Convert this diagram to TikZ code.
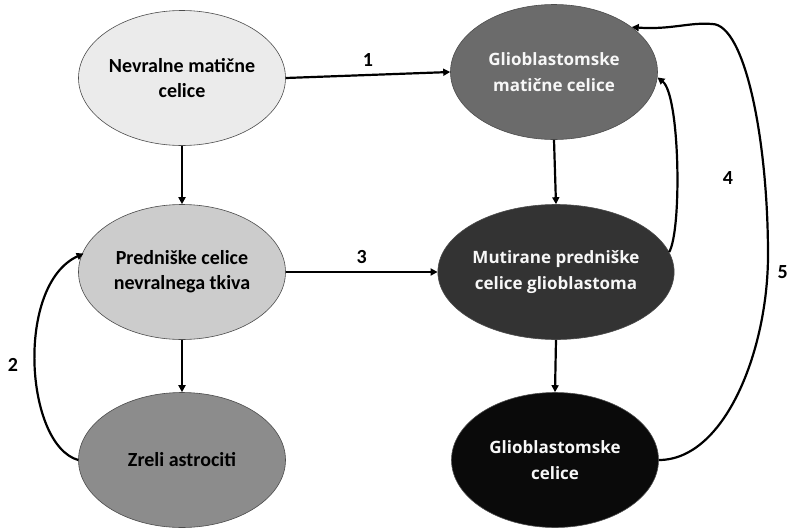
\documentclass[tikz,border=0pt]{standalone}
\usepackage{fontspec}
\setmainfont{Carlito}
\newfontfamily\rfont{Open Sans}
\usetikzlibrary{shapes.geometric,arrows.meta}
\begin{document}
\begin{tikzpicture}[x=1pt,y=-1pt,
  cell/.style={ellipse,draw=black!70,line width=0.6pt,minimum width=207pt,minimum height=135pt,inner sep=0pt,align=center},
  ltext/.style={font=\fontsize{20}{25}\selectfont\bfseries,text=black},
  rtext/.style={font=\rfont\fontsize{17}{26}\selectfont\bfseries,text=black!3},
  conn/.style={line width=2.2pt,-{Triangle[length=7pt,width=7pt]}},
  lbl/.style={font=\fontsize{20}{22}\selectfont\bfseries}]
\useasboundingbox (0,0) rectangle (788,528);
\node[cell,fill=black!8,ltext] (nmc) at (182,78) {Nevralne matične\\celice};
\node[cell,fill=black!20,ltext] (pcn) at (182,272) {Predniške celice\\nevralnega tkiva};
\node[cell,fill=black!45,ltext] (za) at (182,460) {Zreli astrociti};
\node[cell,fill=black!58,rtext] (gmc) at (554,72) {Glioblastomske\\matične celice};
\node[cell,fill=black!80,rtext] (mpc) at (556,272) {Mutirane predniške\\celice glioblastoma};
\node[cell,fill=black!96,rtext] (gc) at (555,460) {Glioblastomske\\celice};
\coordinate (t5) at (712,24);
\coordinate (m5) at (768,255);
\draw[conn] (nmc.east) -- (gmc.west) node[midway,above=4pt,lbl,text=black] (l1) {1};
\draw[conn] (pcn.east) -- (mpc.west) node[midway,above=4pt,lbl,text=black] (l3) {3};
\draw[conn] (nmc.south) -- (pcn.north);
\draw[conn] (pcn.south) -- (za.north);
\draw[conn] (gmc.south) -- (mpc.north);
\draw[conn] (mpc.south) -- (gc.north);
\draw[conn,shorten >=-2pt] (za.west) .. controls (25,445) and (15,285) .. (pcn.170);
\draw[conn] (mpc.10) .. controls (682,230) and (680,95) .. (gmc.-3);
\draw[line width=2.2pt] (gc.east) .. controls (725,460) and (768,350) .. (m5) .. controls (768,140) and (745,24) .. (t5);
\draw[conn] (t5) .. controls (690,22) and (670,30) .. (gmc.30);
\node[lbl] (l2) at (13,365) {2};
\node[lbl] (l4) at (728,178) {4};
\node[lbl,anchor=west] (l5) at (774,272) {5};
\end{tikzpicture}
\end{document}
